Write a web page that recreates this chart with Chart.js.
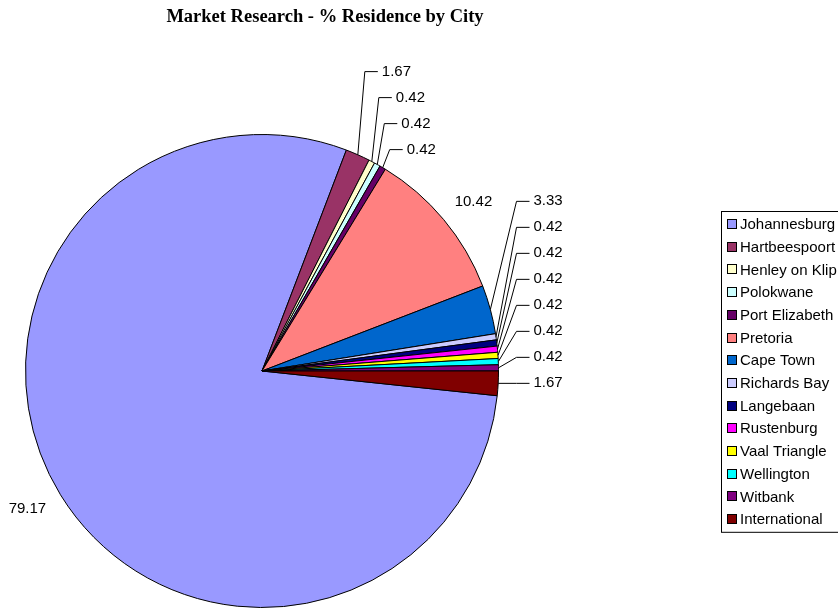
<!DOCTYPE html>
<html>
<head>
<meta charset="utf-8">
<script src="https://cdn.jsdelivr.net/npm/chart.js@4/dist/chart.umd.min.js"></script>
<style>
  html, body { margin: 0; padding: 0; background: #ffffff; }
  #c { display: block; }
</style>
</head>
<body>
<canvas id="c" width="838" height="608"></canvas>
<script>
// ---- data ----
const chartTitle = "Market Research - % Residence by City";
const cities = ["Johannesburg", "Hartbeespoort", "Henley on Klip", "Polokwane", "Port Elizabeth",
  "Pretoria", "Cape Town", "Richards Bay", "Langebaan", "Rustenburg", "Vaal Triangle",
  "Wellington", "Witbank", "International"];
const percentages = [79.17, 1.67, 0.42, 0.42, 0.42, 10.42, 3.33, 0.42, 0.42, 0.42, 0.42, 0.42, 0.42, 1.67];

// ---- styles ----
const sliceColors = ["#9999FF", "#993366", "#FFFFCC", "#CCFFFF", "#660066", "#FF8080", "#0066CC",
  "#CCCCFF", "#000080", "#FF00FF", "#FFFF00", "#00FFFF", "#800080", "#800000"];
const FONT = "15px 'Liberation Sans', Arial, sans-serif";

const overlay = {
  id: 'overlay',
  afterDraw(chart) {
    const ctx = chart.ctx;
    const meta = chart.getDatasetMeta(0);
    const arcs = meta.data;
    ctx.save();

    // title
    ctx.fillStyle = '#000';
    ctx.font = "bold 18.5px 'Liberation Serif', 'Times New Roman', serif";
    ctx.textAlign = 'center';
    ctx.textBaseline = 'middle';
    ctx.fillText(chartTitle, 325, 17);

    // data labels
    ctx.font = FONT;
    ctx.textBaseline = 'middle';
    ctx.strokeStyle = '#000';
    ctx.lineWidth = 1;
    const info = arcs.map((a, i) => {
      const m = (a.startAngle + a.endAngle) / 2;
      const R = a.outerRadius;
      return { i, m, R, cx: a.x, cy: a.y,
        ax: a.x + R * Math.cos(m), ay: a.y + R * Math.sin(m),
        fromTop: ((m + Math.PI / 2) * 180 / Math.PI % 360 + 360) % 360 };
    });
    const topGroup = [], rightGroup = [];
    info.forEach(p => {
      const v = percentages[p.i];
      if (v >= 5) {
        const txt = v.toFixed(2);
        const w = ctx.measureText(txt).width, h = 15;
        const d = p.R + 20;
        const c = Math.cos(p.m), s = Math.sin(p.m);
        ctx.textAlign = 'center';
        ctx.fillText(txt, p.cx + d * c + c * w / 2, p.cy + d * s + s * h / 2);
      } else if (p.fromTop < 45) {
        topGroup.push(p);
      } else {
        rightGroup.push(p);
      }
    });
    const spacing = 26;
    function drawLeader(p, tx, ty) {
      ctx.beginPath();
      ctx.moveTo(p.ax, p.ay);
      if (tx - 17 > p.ax) ctx.lineTo(tx - 17, ty);
      ctx.lineTo(tx - 4, ty);
      ctx.stroke();
      ctx.textAlign = 'left';
      ctx.fillText(percentages[p.i].toFixed(2), tx, ty);
    }
    if (topGroup.length) {
      const last = topGroup[topGroup.length - 1];
      const baseY = last.ay - 18;
      topGroup.forEach((p, k) => {
        const ty = baseY - spacing * (topGroup.length - 1 - k);
        drawLeader(p, p.ax + 24, ty);
      });
    }
    if (rightGroup.length) {
      const last = rightGroup[rightGroup.length - 1];
      const baseY = last.ay;
      rightGroup.forEach((p, k) => {
        const ty = baseY - spacing * (rightGroup.length - 1 - k);
        drawLeader(p, p.cx + p.R + 35, ty);
      });
    }

    // legend
    const lx = 721, ly = 211, rowH = 22.7;
    const lh = rowH * cities.length + 3;
    ctx.strokeStyle = '#000';
    ctx.lineWidth = 1;
    ctx.strokeRect(lx + 0.5, ly + 0.5, 200, lh);
    ctx.font = FONT;
    ctx.textAlign = 'left';
    ctx.textBaseline = 'middle';
    cities.forEach((name, i) => {
      const y = ly + 13 + rowH * i;
      ctx.fillStyle = sliceColors[i];
      ctx.fillRect(lx + 6, Math.round(y - 5), 10, 10);
      ctx.strokeRect(lx + 6.5, Math.round(y - 5) + 0.5, 9, 9);
      ctx.fillStyle = '#000';
      ctx.fillText(name, lx + 19, y + 1);
    });
    ctx.restore();
  }
};

new Chart(document.getElementById('c'), {
  type: 'pie',
  data: {
    labels: cities,
    datasets: [{
      data: percentages,
      backgroundColor: sliceColors,
      borderColor: '#000',
      borderWidth: 1
    }]
  },
  options: {
    responsive: false,
    animation: false,
    rotation: 96,
    layout: { padding: { left: 25, right: 339, top: 134, bottom: 0 } },
    plugins: {
      legend: { display: false },
      title: { display: false },
      tooltip: { enabled: false }
    }
  },
  plugins: [overlay]
});
</script>
</body>
</html>
